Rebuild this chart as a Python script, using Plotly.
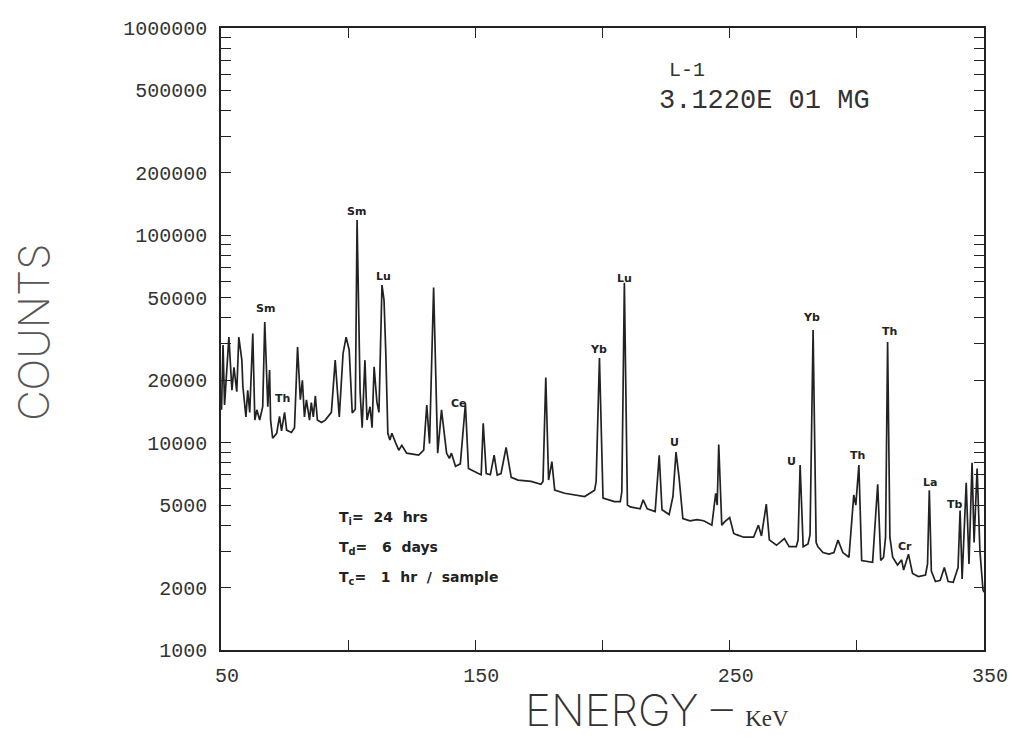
import plotly.graph_objects as go
import math

# ---- spectrum trace (energy in keV, counts) ----
energy_kev = [
    50.2, 50.8, 51.4, 52.2, 53.1, 54.3, 55.1, 56.2, 57.0, 58.2,
    58.6, 59.8, 60.5, 61.3, 62.5, 63.3, 64.1, 65.2, 66.4, 67.2,
    68.4, 69.1, 69.5, 70.3, 71.9, 73.0, 73.8, 75.0, 75.8, 77.7,
    78.9, 80.1, 81.2, 82.0, 82.8, 83.6, 84.8, 85.5, 86.3, 87.1,
    87.9, 89.5, 91.0, 93.4, 94.9, 96.5, 98.0, 99.2, 100.4, 101.6,
    102.8, 103.5, 104.7, 105.5, 106.6, 107.4, 108.6, 109.4, 110.2, 111.3,
    112.1, 113.3, 114.1, 114.8, 115.6, 116.4, 117.2, 118.7, 119.9, 121.1,
    123.0, 127.7, 129.7, 130.9, 132.0, 133.6, 135.2, 136.7, 138.7, 139.8,
    140.6, 142.2, 144.1, 146.1, 147.3, 151.2, 152.3, 153.1, 154.3, 155.9,
    157.4, 158.6, 160.1, 162.1, 164.1, 166.8, 171.9, 175.8, 176.6, 177.7,
    178.8, 180.1, 181.2, 185.1, 189.1, 193.0, 196.9, 197.5, 198.8, 200.2,
    204.7, 207.0, 207.6, 208.6, 209.8, 210.9, 214.8, 216.0, 217.6, 220.7,
    222.3, 223.4, 226.2, 227.7, 228.9, 230.1, 231.6, 234.4, 237.1, 239.8,
    243.0, 244.5, 245.1, 245.7, 246.9, 248.0, 250.0, 251.6, 252.7, 255.5,
    259.4, 261.3, 262.5, 264.4, 265.6, 268.4, 271.5, 273.4, 276.2, 276.9,
    277.7, 278.9, 280.8, 281.6, 282.8, 284.0, 284.7, 286.7, 289.0, 291.0,
    292.6, 294.5, 296.9, 298.8, 299.6, 300.8, 301.9, 306.2, 308.2, 309.4,
    310.5, 311.3, 312.1, 313.0, 314.1, 316.0, 317.6, 318.4, 320.3, 321.9,
    324.2, 327.0, 327.8, 328.5, 329.3, 330.9, 332.8, 334.4, 335.9, 337.9,
    339.8, 340.6, 341.4, 343.0, 344.1, 345.3, 346.1, 347.3, 348.4, 349.6, 350.0,
]
counts = [
    14400, 29600, 15200, 21200, 32300, 17900, 23100, 17600, 32300, 25000,
    18700, 13300, 17900, 14000, 33600, 12850, 14400, 12850, 14900, 38200,
    14900, 22400, 12850, 10500, 11100, 13400, 11400, 14000, 11500, 11200,
    11800, 28900, 16100, 20000, 13300, 16100, 12850, 15600, 13300, 16800,
    12850, 12500, 12850, 14000, 25000, 13300, 27000, 32300, 28000, 13900,
    14500, 118500, 17500, 11800, 25000, 12850, 14900, 11800, 23200, 15700,
    14000, 57600, 48700, 27000, 11100, 10300, 11100, 9950, 9200, 9700,
    8900, 8700, 9200, 15200, 9900, 56000, 8900, 14400, 8900, 8400,
    8900, 7700, 7900, 15400, 7500, 7100, 7000, 12400, 7100, 7000,
    8700, 6980, 7100, 9500, 6800, 6600, 6500, 6300, 6500, 20600,
    6600, 8100, 5900, 5700, 5600, 5500, 5900, 6500, 25600, 5400,
    5200, 5200, 5800, 59000, 5000, 4900, 4800, 5300, 4800, 4650,
    8700, 4750, 4500, 5500, 9000, 6800, 4300, 4200, 4250, 4200,
    4000, 5700, 5000, 9800, 4000, 4150, 4350, 3650, 3600, 3500,
    3500, 4000, 3550, 5050, 3400, 3200, 3450, 3150, 3150, 3400,
    7800, 3150, 3250, 3600, 34900, 3300, 3150, 2950, 2900, 2950,
    3390, 2950, 2800, 5600, 5000, 7800, 2700, 2650, 6300, 2700,
    2800, 3500, 30600, 3500, 2800, 2570, 2720, 2430, 2900, 2340,
    2260, 2300, 2600, 5900, 2400, 2140, 2170, 2500, 2140, 2120,
    2500, 4700, 2200, 6400, 2600, 8000, 3300, 7500, 3000, 1950, 1900,
]

# ---- axis ticks ----
x_tick_values = [50, 100, 150, 200, 250, 300, 350]
x_tick_labels = ["50", "", "150", "", "250", "", "350"]
y_tick_values = [1000, 2000, 5000, 10000, 20000, 50000, 100000, 200000, 500000, 1000000]
y_tick_labels = ["1000", "2000", "5000", "10000", "20000", "50000",
                 "100000", "200000", "500000", "1000000"]
y_minor_values = [m * 10 ** d for d in (3, 4, 5) for m in range(2, 10)]

# ---- peak identifications (label, energy keV, counts at label) ----
peak_names = ["Sm", "Th", "Sm", "Lu", "Ce", "Yb", "Lu", "U", "U", "Yb", "Th", "Th", "La", "Cr", "Tb"]
peak_label_energy = [67.6, 74.2, 103.1, 113.7, 143.7, 198.4, 208.6, 228.5, 274.2, 282.0, 300.4, 312.9, 328.9, 319.1, 338.7]
peak_label_counts = [44500, 16400, 129700, 63000, 15500, 28000, 62000, 10000, 8100, 40000, 8700, 34500, 6450, 3170, 5050]

INK = "#222222"
MONO = "Liberation Mono, DejaVu Sans Mono, monospace"
THIN = "DejaVu Sans ExtraLight, Inter, DejaVu Sans"

fig = go.Figure()
fig.add_trace(go.Scatter(
    x=energy_kev, y=counts, mode="lines",
    line=dict(color=INK, width=1.7),
    showlegend=False, hoverinfo="skip",
))

for name, e, c in zip(peak_names, peak_label_energy, peak_label_counts):
    fig.add_annotation(
        x=e, y=math.log10(c), xref="x", yref="y", text=name, showarrow=False,
        font=dict(family="DejaVu Sans, sans-serif", size=11, color=INK, weight="bold"),
        xanchor="center", yanchor="middle",
    )

fig.add_annotation(x=0.585, y=0.932, xref="paper", yref="paper", text="L-1",
                   showarrow=False, xanchor="left", yanchor="middle",
                   font=dict(family=MONO, size=20, color="#333"))
fig.add_annotation(x=0.572, y=0.883, xref="paper", yref="paper", text="3.1220E 01 MG",
                   showarrow=False, xanchor="left", yanchor="middle",
                   font=dict(family=MONO, size=27, color="#333"))

info_lines = ["T<sub>i</sub>=  24  hrs", "T<sub>d</sub>=   6  days", "T<sub>c</sub>=   1  hr  /  sample"]
info_y = [0.212, 0.164, 0.116]
for t, yy in zip(info_lines, info_y):
    fig.add_annotation(x=0.152, y=yy, xref="paper", yref="paper", text=t.replace("  ", "\u00a0 "),
                       showarrow=False, xanchor="left", yanchor="middle",
                       font=dict(family="DejaVu Sans, sans-serif", size=14, color=INK, weight="bold"))

fig.add_annotation(x=-0.245, y=0.51, xref="paper", yref="paper", text="COUNTS",
                   showarrow=False, textangle=-90, xanchor="center", yanchor="middle",
                   font=dict(family=THIN, size=42, color="#555", weight=200))
fig.add_annotation(x=0.572, y=-0.097, xref="paper", yref="paper",
                   text="ENERGY – <span style='font-family:Liberation Serif;font-size:23px'>KeV</span>",
                   showarrow=False, xanchor="center", yanchor="middle",
                   font=dict(family=THIN, size=44, color="#333", weight=200))

# Full-window figure; the page's default body margin is removed so the plot
# frame sits at 221..989 x 28..650 in the 1020x740 window.
fig.update_layout(
    width=1020, height=740,
    margin=dict(l=221, r=31, t=28, b=90),
    paper_bgcolor="white", plot_bgcolor="white",
    xaxis=dict(
        range=[50, 350], tickmode="array", tickvals=x_tick_values, ticktext=x_tick_labels,
        ticks="inside", ticklen=10, tickwidth=1.3, tickcolor=INK,
        showline=True, linecolor=INK, linewidth=1.5, mirror="allticks",
        showgrid=False, zeroline=False,
        tickfont=dict(family=MONO, size=20, color="#333"),
        ticklabelshift=6, ticklabelstandoff=6,
    ),
    yaxis=dict(
        type="log", range=[3, 6], tickmode="array", tickvals=y_tick_values, ticktext=y_tick_labels,
        ticks="inside", ticklen=10, tickwidth=1.3, tickcolor=INK,
        showline=True, linecolor=INK, linewidth=1.5, mirror="allticks",
        showgrid=False, zeroline=False,
        tickfont=dict(family=MONO, size=20, color="#333"),
        ticklabelstandoff=8,
        minor=dict(tickmode="array", tickvals=y_minor_values, ticks="inside",
                   ticklen=10, tickwidth=1.3, tickcolor=INK, showgrid=False),
    ),
)

fig.write_html(
    "out.html",
    config={"displayModeBar": False},
    post_script="document.body.style.margin='0px';document.body.style.overflow='hidden';",
)
